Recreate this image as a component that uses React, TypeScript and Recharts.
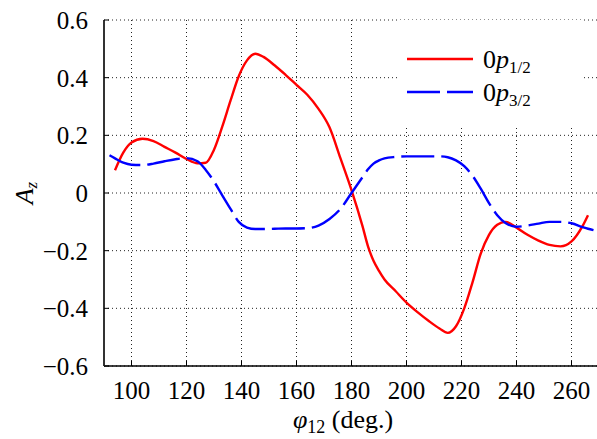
import { LineChart, Line, XAxis, YAxis, CartesianGrid, Legend } from 'recharts';

const phi = [
  92, 94, 97, 100, 104, 108, 112, 116, 120, 124, 127, 130, 133, 136, 139, 142, 145, 148,
  152, 156, 160, 164, 168, 172, 176, 180, 184, 186, 188, 190, 192, 196, 200, 204, 208, 212,
  215, 218, 221, 224, 227, 230, 233, 236, 240, 244, 248, 252, 256, 260, 264, 266, 268
];

const p12 = [
  null, 0.079, 0.14, 0.175, 0.188, 0.18, 0.16, 0.14, 0.118, 0.103, 0.105, 0.15, 0.23, 0.32,
  0.405, 0.46, 0.483, 0.472, 0.443, 0.41, 0.375, 0.34, 0.292, 0.228, 0.12, 0.01, -0.115,
  -0.185, -0.235, -0.27, -0.3, -0.34, -0.38, -0.413, -0.443, -0.47, -0.485, -0.462, -0.4,
  -0.31, -0.21, -0.145, -0.11, -0.1, -0.12, -0.145, -0.165, -0.18, -0.185, -0.168, -0.115,
  -0.077, null
];

const p32 = [
  0.131, 0.12, 0.105, 0.098, 0.097, 0.102, 0.11, 0.117, 0.121, 0.11, 0.08, 0.04, -0.008,
  -0.055, -0.1, -0.12, -0.125, -0.125, -0.124, -0.123, -0.123, -0.122, -0.113, -0.09,
  -0.055, 0.0, 0.055, 0.082, 0.102, 0.113, 0.12, 0.125, 0.127, 0.127, 0.127, 0.127, 0.124,
  0.113, 0.093, 0.06, 0.015, -0.035, -0.077, -0.104, -0.117, -0.113, -0.106, -0.1, -0.1,
  -0.105, -0.118, -0.124, -0.129
];

const xTicks = [100, 120, 140, 160, 180, 200, 220, 240, 260];
const yTicks = [-0.6, -0.4, -0.2, 0, 0.2, 0.4, 0.6];

const data = phi.map((x, i) => ({ phi: x, p12: p12[i], p32: p32[i] }));

const FONT = "'Times New Roman', Times, 'Liberation Serif', 'DejaVu Serif', serif";

const formatY = (v: number) => {
  if (v === 0) return '0';
  const s = Math.abs(v).toFixed(1);
  return v < 0 ? `\u2212${s}` : s;
};

const YLabel = () => (
  <text
    transform="translate(33,193) rotate(-90)"
    textAnchor="middle"
    fontSize={26}
    fill="#000"
    fontFamily={FONT}
  >
    <tspan fontStyle="italic">A</tspan>
    <tspan fontStyle="italic" fontSize={17} dy={4}>z</tspan>
  </text>
);

const XLabel = () => (
  <text x={343} y={428} textAnchor="middle" fontSize={26} fill="#000" fontFamily={FONT}>
    <tspan fontStyle="italic">φ</tspan>
    <tspan fontSize={18} dy={5}>12</tspan>
    <tspan dy={-5}> (deg.)</tspan>
  </text>
);

const LegendBox = () => (
  <svg width={186} height={107}>
    <line x1={10} y1={39} x2={76} y2={39} stroke="#ff0000" strokeWidth={2.4} />
    <line x1={10} y1={72} x2={76} y2={72} stroke="#0000ff" strokeWidth={2.4} strokeDasharray="33 7" />
    <text x={86} y={48} fontSize={26} fill="#000" fontFamily={FONT}>
      0<tspan fontStyle="italic">p</tspan>
      <tspan fontSize={17} dy={5}>1/2</tspan>
    </text>
    <text x={86} y={81} fontSize={26} fill="#000" fontFamily={FONT}>
      0<tspan fontStyle="italic">p</tspan>
      <tspan fontSize={17} dy={5}>3/2</tspan>
    </text>
  </svg>
);

const App = () => {
  return (
    <div
      style={{
        position: 'absolute',
        left: 0,
        top: 0,
        width: 597,
        height: 439,
        overflow: 'hidden',
        background: '#fff',
        fontFamily: FONT
      }}
    >
      <LineChart
        width={599}
        height={439}
        data={data}
        margin={{ top: 20, right: 0, left: 0, bottom: 0 }}
      >
        <CartesianGrid stroke="#222" strokeDasharray="1 3" />
        <XAxis
          dataKey="phi"
          type="number"
          domain={[90, 270]}
          ticks={xTicks}
          allowDataOverflow
          height={73}
          tickSize={-5}
          tickMargin={20}
          axisLine={{ stroke: '#000', strokeWidth: 1.5 }}
          tickLine={{ stroke: '#000' }}
          tick={{ fill: '#000', fontSize: 25, fontFamily: FONT }}
          label={<XLabel />}
        />
        <XAxis
          xAxisId="top"
          orientation="top"
          type="number"
          domain={[90, 270]}
          ticks={xTicks}
          allowDataOverflow
          height={0}
          tickSize={-5}
          tick={false}
          axisLine={{ stroke: '#000', strokeWidth: 1.2 }}
          tickLine={{ stroke: '#000' }}
        />
        <YAxis
          type="number"
          domain={[-0.6, 0.6]}
          ticks={yTicks}
          allowDataOverflow
          width={104}
          tickSize={-5}
          tickMargin={21}
          tickFormatter={formatY}
          axisLine={{ stroke: '#333', strokeWidth: 2 }}
          tickLine={{ stroke: '#000' }}
          tick={{ fill: '#000', fontSize: 25, fontFamily: FONT }}
          label={<YLabel />}
        />
        <Legend
          layout="horizontal"
          verticalAlign="middle"
          align="center"
          content={<LegendBox />}
          wrapperStyle={{
            left: 397,
            top: 20,
            width: 186,
            height: 107,
            background: '#fff'
          }}
        />
        <Line
          type="monotone"
          dataKey="p12"
          stroke="#ff0000"
          strokeWidth={2.4}
          dot={false}
          activeDot={false}
          isAnimationActive={false}
        />
        <Line
          type="monotone"
          dataKey="p32"
          stroke="#0000ff"
          strokeWidth={2.4}
          strokeDasharray="33 7"
          dot={false}
          activeDot={false}
          isAnimationActive={false}
        />
      </LineChart>
    </div>
  );
};

export default App;
